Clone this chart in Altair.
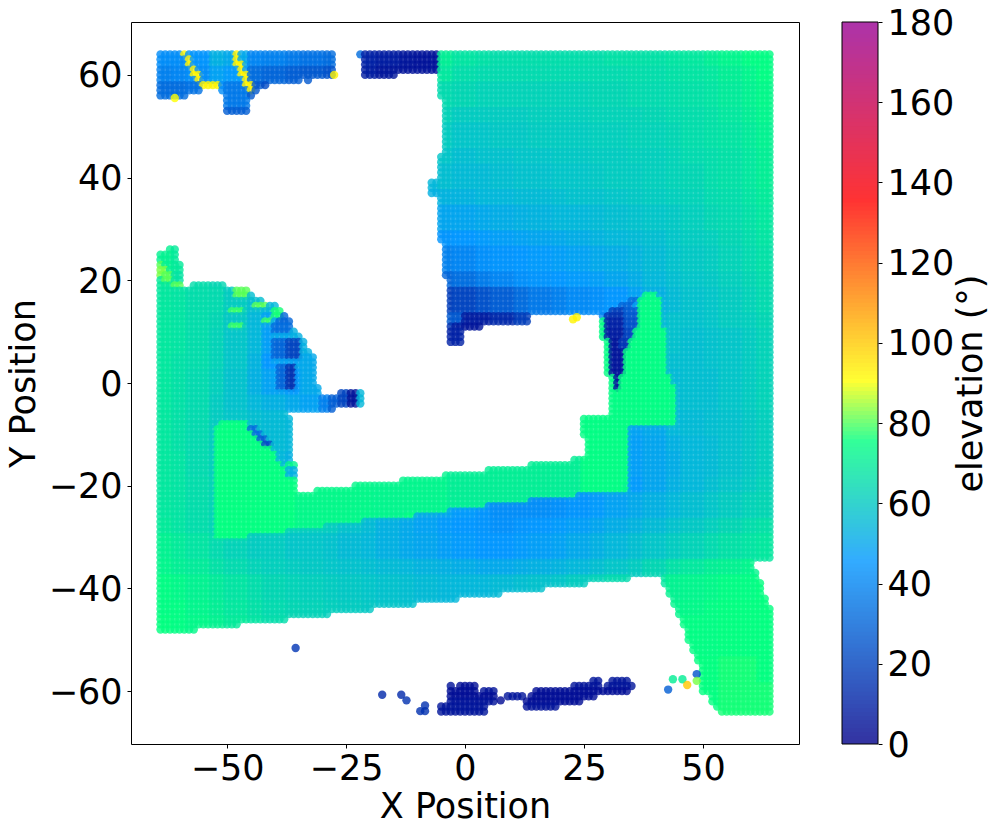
import altair as alt
import pandas as pd

alt.data_transformers.disable_max_rows()

# Occupied cells: (y top, y bottom, [x spans])
MASK_SPANS = [
    (64, 64, [(-64, -28), (-22, -6), (-5, 64)]),
    (63, 61, [(-64, -28), (-21, -6), (-5, 64)]),
    (60, 60, [(-64, -28), (-21, -15), (-5, 64)]),
    (59, 59, [(-64, -35), (-33, -33), (-5, 64)]),
    (58, 58, [(-64, -42), (-5, 64)]),
    (57, 57, [(-64, -56), (-51, -44), (-5, 64)]),
    (56, 56, [(-64, -59), (-50, -45), (-5, 64)]),
    (55, 53, [(-50, -46), (-4, 64)]),
    (52, 45, [(-4, 64)]),
    (44, 40, [(-5, 64)]),
    (39, 37, [(-7, 64)]),
    (36, 28, [(-5, 64)]),
    (27, 27, [(-4, 64)]),
    (26, 26, [(-62, -61), (-4, 64)]),
    (25, 24, [(-64, -61), (-4, 64)]),
    (23, 21, [(-64, -60), (-4, 64)]),
    (20, 20, [(-64, -60), (-3, 64)]),
    (19, 19, [(-64, -60), (-57, -51), (-3, 64)]),
    (18, 18, [(-64, -46), (-3, 64)]),
    (17, 17, [(-64, -45), (-3, 64)]),
    (16, 16, [(-64, -43), (-3, 64)]),
    (15, 15, [(-64, -40), (-3, 64)]),
    (14, 14, [(-64, -39), (-3, 64)]),
    (13, 13, [(-64, -38), (-3, 13), (29, 64)]),
    (12, 12, [(-64, -37), (-3, 13), (29, 64)]),
    (11, 11, [(-64, -37), (-3, 3), (29, 64)]),
    (10, 10, [(-64, -36), (-3, -1), (29, 64)]),
    (9, 9, [(-64, -35), (-3, -1), (29, 64)]),
    (8, 8, [(-64, -34), (-3, -1), (30, 64)]),
    (7, 7, [(-64, -34), (30, 64)]),
    (6, 6, [(-64, -33), (30, 64)]),
    (5, 2, [(-64, -32), (30, 64)]),
    (1, 0, [(-64, -32), (31, 64)]),
    (-1, -1, [(-64, -31), (31, 64)]),
    (-2, -2, [(-64, -31), (-26, -22), (31, 64)]),
    (-3, -4, [(-64, -22), (31, 64)]),
    (-5, -5, [(-64, -28), (31, 64)]),
    (-6, -6, [(-64, -38), (31, 64)]),
    (-7, -10, [(-64, -37), (25, 64)]),
    (-11, -14, [(-64, -37), (26, 64)]),
    (-15, -15, [(-64, -37), (23, 64)]),
    (-16, -16, [(-64, -36), (14, 64)]),
    (-17, -17, [(-64, -36), (5, 64)]),
    (-18, -18, [(-64, -36), (-4, 64)]),
    (-19, -19, [(-64, -36), (-13, 64)]),
    (-20, -20, [(-64, -36), (-23, 64)]),
    (-21, -21, [(-64, -36), (-31, 64)]),
    (-22, -34, [(-64, 64)]),
    (-35, -36, [(-64, 60)]),
    (-37, -37, [(-64, 61)]),
    (-38, -38, [(-64, 34), (42, 61)]),
    (-39, -39, [(-64, 25), (42, 62)]),
    (-40, -40, [(-64, 16), (43, 62)]),
    (-41, -41, [(-64, 7), (43, 62)]),
    (-42, -42, [(-64, -2), (44, 63)]),
    (-43, -43, [(-64, -11), (44, 63)]),
    (-44, -44, [(-64, -20), (45, 64)]),
    (-45, -45, [(-64, -29), (45, 64)]),
    (-46, -46, [(-64, -38), (46, 64)]),
    (-47, -47, [(-64, -48), (46, 64)]),
    (-48, -48, [(-64, -57), (47, 64)]),
    (-49, -50, [(47, 64)]),
    (-51, -52, [(48, 64)]),
    (-53, -54, [(49, 64)]),
    (-55, -60, [(50, 64)]),
    (-61, -62, [(52, 64)]),
    (-63, -63, [(53, 64)]),
    (-64, -64, [(54, 64)]),
]

# Elevation, every 4 units: y 64 ... -64, x -64 ... 64
VALUE_ROWS = [
    [42,42,44,52,50,40,38,36,34,32,0,10,8,6,5, 70,67,66,65,65,65,65,65,65,66,66,66,67,68,70,72,74,74],
    [38,40,42,48,46,32,30,28,26,24,0,8,6,5,5, 68,65,64,64,64,64,64,64,64,64,65,65,66,67,68,70,72,74],
    [32,32,34,42,36,26,22,20,0,0,0,0,0,0,0, 64,63,62,62,62,62,62,62,63,63,64,64,65,66,67,69,71,73],
    [0,0,0,0,28,0,0,0,0,0,0,0,0,0,0, 62,60,60,60,60,61,61,61,62,62,62,63,64,65,66,68,70,72],
    [0,0,0,0,0,0,0,0,0,0,0,0,0,0,0, 60,58,58,59,59,60,60,60,61,61,62,62,63,65,66,67,69,71],
    [0,0,0,0,0,0,0,0,0,0,0,0,0,0,0, 58,56,57,57,58,58,59,59,60,60,61,61,62,64,65,66,68,70],
    [0,0,0,0,0,0,0,0,0,0,0,0,0,0,54, 56,55,55,56,57,57,58,58,59,60,60,61,62,63,65,66,68,70],
    [0,0,0,0,0,0,0,0,0,0,0,0,0,0,52, 53,53,54,54,55,55,56,57,57,58,59,60,61,62,64,65,67,69],
    [0,0,0,0,0,0,0,0,0,0,0,0,0,0,0, 49,49,50,51,52,53,54,54,55,56,57,58,59,61,63,64,66,68],
    [0,0,0,0,0,0,0,0,0,0,0,0,0,0,0, 44,45,46,47,48,49,50,51,53,54,55,56,58,60,61,63,65,67],
    [71,69,0,0,0,0,0,0,0,0,0,0,0,0,0, 38,40,43,44,45,46,47,48,50,51,53,55,57,59,60,62,64,66],
    [69,67,65,63,0,0,0,0,0,0,0,0,0,0,0, 30,33,37,40,43,44,45,46,47,49,51,54,56,58,59,61,63,65],
    [68,67,65,64,60,56,54,0,0,0,0,0,0,0,0, 18,20,24,28,32,36,38,41,43,45,48,52,55,57,58,60,62,64],
    [68,67,65,63,59,54,48,54,0,0,0,0,0,0,0, 14,8,8,12,18,26,32,36,40,42,50,54,57,57,58,60,61,63],
    [68,67,65,62,58,54,47,52,52,0,0,0,0,0,0, 12,10,0,0,0,0,0,0,74,60,55,74,57,56,57,58,60,62],
    [68,66,65,62,58,53,45,50,50,0,0,0,0,0,0, 0,0,0,0,0,0,0,0,74,74,74,74,56,56,57,58,60,62],
    [68,66,64,61,57,52,48,46,50,38,12,0,0,0,0, 0,0,0,0,0,0,0,0,74,74,74,74,55,56,56,58,60,62],
    [68,66,64,60,57,54,52,50,48,40,12,0,0,0,0, 0,0,0,0,0,0,0,0,74,74,74,74,55,56,56,58,60,62],
    [68,66,64,60,58,56,55,54,0,0,0,0,0,0,0, 0,0,0,0,0,0,0,0,74,74,48,50,54,55,56,57,59,61],
    [68,66,64,60,58,56,55,54,0,0,0,0,0,0,0, 0,0,0,0,0,0,0,0,74,74,47,49,52,54,55,57,59,61],
    [68,67,64,61,58,56,54,52,0,0,0,0,0,0,0, 72,72,72,72,72,72,72,72,74,74,47,49,51,54,55,57,59,61],
    [68,67,65,62,74,74,74,74,74,74,74,74,74,74,74, 72,72,72,72,72,72,72,72,72,72,46,49,52,54,56,58,60,62],
    [68,67,65,62,74,74,74,74,74,74,74,74,74,74,50, 48,46,44,42,42,42,43,44,46,48,50,52,54,56,58,60,62,63],
    [69,67,65,62,64,63,62,61,60,60,57,55,52,50,48, 46,45,44,43,44,45,46,47,49,51,53,55,57,59,61,63,65,66],
    [71,69,67,64,62,60,60,58,58,57,55,54,52,50,49, 47,46,45,45,46,47,48,50,52,54,56,58,60,62,64,66,67,68],
    [72,70,69,66,64,62,61,60,59,58,57,56,55,54,53, 52,51,50,50,51,52,53,54,56,58,60,63,66,68,70,71,72,73],
    [74,73,71,69,67,65,63,62,61,60,59,58,57,56,55, 54,54,54,55,56,57,58,60,62,64,66,68,71,72,73,74,74,75],
    [74,74,72,70,68,66,64,63,62,61,60,59,58,57,56, 55,0,0,0,0,0,0,0,0,0,0,0,72,73,74,75,75,75],
    [75,74,73,71,69,67,65,63,0,0,0,0,0,0,0, 0,0,0,0,0,0,0,0,0,0,0,0,0,74,74,75,75,75],
    [0,0,0,0,0,0,0,0,0,0,0,0,0,0,0, 0,0,0,0,0,0,0,0,0,0,0,0,0,74,74,75,75,75],
    [0,0,0,0,0,0,0,0,0,0,0,0,0,0,0, 0,0,0,0,0,0,0,0,0,0,0,0,0,75,75,76,76,75],
    [0,0,0,0,0,0,0,0,0,0,0,0,0,0,0, 0,0,0,0,0,0,0,0,0,0,0,0,0,75,75,76,76,76],
    [0,0,0,0,0,0,0,0,0,0,0,0,0,0,0, 0,0,0,0,0,0,0,0,0,0,0,0,0,0,75,76,76,76],
]

# Sharp green band: (y, x from, x to); its elevation by x limit follows
GREEN_SPANS = [
    (-8,-51,-46),(-9,-52,-45),(-10,-52,-44),(-11,-52,-43),(-12,-52,-42),(-13,-52,-41),
    (-14,-52,-40),(-15,-52,-40),(-16,-52,-39),(-17,-52,-38),(-18,-52,-38),(-19,-52,-37),
    (-20,-52,-36),(-21,-52,-36),(-21,-31,33),(-22,-52,23),(-23,-52,13),(-24,-52,4),
    (-25,-52,-4),(-26,-52,-13),(-27,-52,-22),(-28,-52,-30),(-29,-52,-38),(-30,-52,-46),
    (-20,-23,33),(-19,-13,34),(-18,-4,34),(-17,5,34),(-16,14,34),(-15,23,34),
    (-14,26,34),(-13,26,34),(-12,26,34),(-11,26,34),(-10,25,34),(-9,25,34),(-8,25,44),(-7,25,44),
    (-6,31,44),(-5,31,44),(-4,31,44),(-3,31,44),(-2,31,44),(-1,31,44),(0,31,43),(1,31,43),
    (2,30,42),(3,30,42),(4,30,42),(5,30,42),(6,30,42),(7,30,42),(8,30,42),
    (9,29,41),(10,29,41),(11,29,41),(12,29,41),(13,37,41),(14,37,41),(15,37,41),(16,37,41),(17,38,40),
]
GREEN_LIMITS = [-36, -20, -4, 12, 24, 70]
GREEN_VALUES = [75, 73, 72, 70, 70, 74]

# Local patches: (y top, y bottom, x from, x to, elevation)
PATCH_SPANS = [
    (14,14,31,33,18),(14,14,34,36,28),(13,13,30,33,14),(13,13,34,36,26),
    (12,11,30,33,10),(12,11,34,36,24),(10,9,30,33,8),(10,9,34,35,20),
    (8,7,31,32,6),(8,7,33,34,16),(6,3,31,33,6),(2,2,31,33,5),(1,-1,32,32,5),
    (15,15,33,35,30),(16,16,35,36,32),
    (11,11,0,3,6),(10,8,-3,-1,10),(13,12,-3,-1,26),
    (13,12,-39,-37,30),(11,10,-40,-37,32),(9,9,-40,-37,50),
    (8,5,-40,-38,30),(8,5,-37,-35,20),(4,4,-40,-35,48),
    (3,-1,-39,-38,30),(3,-1,-37,-36,15),(-2,-4,-26,-25,20),(-2,-4,-24,-23,6),
    (-2,-4,-22,-22,54),(-3,-5,-30,-29,38),(-2,-5,-28,-27,28),
    (18,17,-48,-46,80),(15,15,-44,-42,80),(14,14,-49,-47,78),(11,11,-49,-47,78),
    (12,12,-42,-41,78),(14,13,-40,-39,76),(23,23,-64,-64,80),(22,21,-64,-63,82),
    (21,20,-63,-62,80),(19,19,-61,-60,80),
    (-9,-9,-45,-44,32),(-10,-10,-44,-43,32),(-11,-11,-43,-42,28),(-12,-12,-42,-41,22),
    (-16,-16,-37,-36,72),
    (64,64,-59,-59,92),(63,62,-58,-58,92),(61,60,-57,-57,92),(60,59,-56,-56,92),(58,58,-55,-52,92),
    (64,62,-48,-48,92),(62,60,-47,-47,92),(60,58,-46,-46,92),(58,57,-45,-45,92),(56,56,-44,-44,92),
]

# Sparse returns along the bottom: (y, x from, x to, elevation)
BOTTOM_SPANS = [
    (-58,27,28,6),(-58,31,34,6),(-59,-3,-3,5),(-59,-1,2,4),(-59,23,28,5),(-59,30,35,6),
    (-60,-3,2,4),(-60,4,6,5),(-60,15,34,4),(-61,-3,6,4),(-61,9,12,6),(-61,14,27,4),
    (-62,-3,6,5),(-62,13,24,4),(-63,-5,4,6),(-63,13,19,5),(-64,-5,4,6),
]
LONE_X = [-35.6,-17.4,-13.4,-12.3,-8.4,-9.4,-8.4,7.5,43.7,45.7,46.7,42.7,48.7,48.7,-27.5,-61,22.7,23.5]
LONE_Y = [-51.6,-60.7,-60.7,-61.8,-62.8,-63.9,-63.9,-61.8,-57.7,-57.7,-58.8,-59.7,-56.7,-58,60,55.5,12.4,12.8]
LONE_E = [16,12,12,14,14,14,14,3,70,70,100,28,25,82,92,90,92,92]

COLOR_STOPS = [0, 45, 75, 90, 135, 180]
COLOR_RANGE = ["#00008b", "#0096ff", "#00ff7f", "#ffff00", "#ff0000", "#960096"]
BAR_RANGE = ["#3333a2", "#33abff", "#33ff99", "#ffff33", "#ff3333", "#ab33ab"]
X_TICKS = [-50, -25, 0, 25, 50]
Y_TICKS = [-60, -40, -20, 0, 20, 40, 60]
BAR_TICKS = [0, 20, 40, 60, 80, 100, 120, 140, 160, 180]
BAR_LEVELS = list(range(0, 180))


def lookup(x, y):
    row = round((64 - y) / 4)
    col = round((x + 64) / 4)
    for r, c in [(row, col), (row, col - 1), (row, col + 1), (row - 1, col), (row + 1, col)]:
        if 0 <= r < 33 and 0 <= c < 33 and VALUE_ROWS[r][c]:
            return VALUE_ROWS[r][c]
    return 50


cells = {}
for top, bottom, spans in MASK_SPANS:
    for y in range(top, bottom - 1, -1):
        for x0, x1 in spans:
            for x in range(x0, x1 + 1):
                cells[(x, y)] = lookup(x, y)
for y, x0, x1 in GREEN_SPANS:
    for x in range(x0, x1 + 1):
        if (x, y) in cells:
            cells[(x, y)] = next(v for lim, v in zip(GREEN_LIMITS, GREEN_VALUES) if x <= lim)
for top, bottom, x0, x1, e in PATCH_SPANS:
    for y in range(top, bottom - 1, -1):
        for x in range(x0, x1 + 1):
            if (x, y) in cells:
                cells[(x, y)] = e
for y, x0, x1, e in BOTTOM_SPANS:
    for x in range(x0, x1 + 1):
        cells[(x, y)] = e

rows = [{"x": x, "y": y, "e": e} for (x, y), e in cells.items()]
rows += [{"x": x, "y": y, "e": e} for x, y, e in zip(LONE_X, LONE_Y, LONE_E)]
points = pd.DataFrame(rows)

font = "DejaVu Sans"
axis_style = dict(grid=False, format="d", tickSize=4, tickColor="#000", domain=False,
                  labelFontSize=35, titleFontSize=35, labelFont=font, titleFont=font,
                  titleFontWeight="normal", labelColor="#000", titleColor="#000",
                  labelFlush=False)

scatter = alt.Chart(points).mark_circle(size=70, opacity=0.8).encode(
    x=alt.X("x:Q", scale=alt.Scale(domain=[-70.2, 70.2], nice=False),
            axis=alt.Axis(values=X_TICKS, title="X Position", labelPadding=3, titlePadding=3, **axis_style)),
    y=alt.Y("y:Q", scale=alt.Scale(domain=[-70.3, 70.3], nice=False),
            axis=alt.Axis(values=Y_TICKS, title="Y Position", labelPadding=5, labelOffset=1, titlePadding=7, **axis_style)),
    color=alt.Color("e:Q", scale=alt.Scale(domain=COLOR_STOPS, range=COLOR_RANGE, interpolate="rgb"), legend=None),
)

bar_data = pd.DataFrame({"d": BAR_LEVELS, "d2": [min(v + 1.4, 180) for v in BAR_LEVELS]})
bar = alt.Chart(bar_data).mark_rect().encode(
    x=alt.value(711),
    x2=alt.value(747),
    y=alt.Y("d:Q", scale=alt.Scale(domain=[0, 180], nice=False),
            axis=alt.Axis(orient="right", offset=79, values=BAR_TICKS, title="elevation (°)",
                          labelPadding=5, labelOffset=1, titlePadding=35, titleAngle=270, **axis_style)),
    y2="d2:Q",
    color=alt.Color("d:Q", scale=alt.Scale(domain=COLOR_STOPS, range=BAR_RANGE, interpolate="rgb"), legend=None),
)
bar_frame = alt.Chart(pd.DataFrame({"a": [0]})).mark_rect(fillOpacity=0, stroke="#000", strokeWidth=1).encode(
    x=alt.value(711), x2=alt.value(747), y=alt.value(0), y2=alt.value(722),
)

chart = alt.layer(scatter, bar, bar_frame).resolve_scale(y="independent", color="independent").properties(
    width=668, height=722,
    padding={"left": 123, "top": 14, "right": 193, "bottom": 90},
    autosize=alt.AutoSizeParams(type="none"),
    background="white",
).configure_view(stroke="#000", strokeWidth=1)

chart.save("out.html", embed_options={"renderer": "svg", "actions": False})
